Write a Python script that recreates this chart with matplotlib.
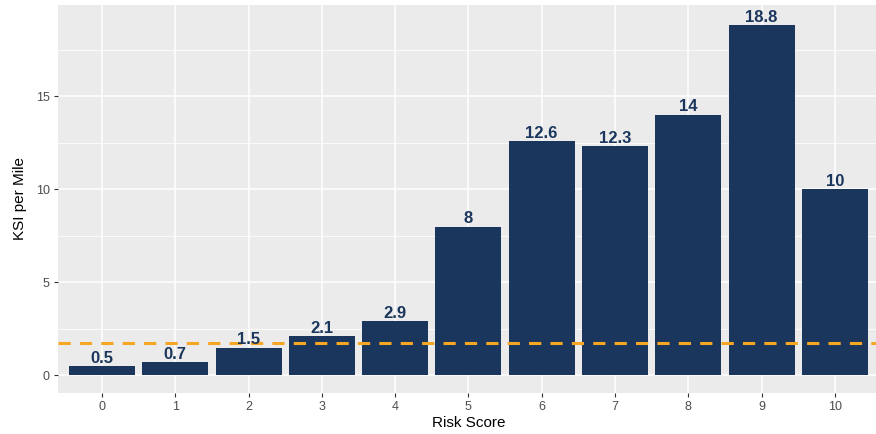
import matplotlib.pyplot as plt
import numpy as np

scores = list(range(11))
ksi_per_mile = [0.5, 0.7, 1.5, 2.1, 2.9, 8.0, 12.6, 12.3, 14.0, 18.8, 10.0]
labels = ["0.5", "0.7", "1.5", "2.1", "2.9", "8", "12.6", "12.3", "14", "18.8", "10"]
average = 1.77

plt.rcParams["font.family"] = ["Liberation Sans", "DejaVu Sans"]

fig = plt.figure(figsize=(8.76, 4.34), dpi=100)
ax = fig.add_axes([0.0662, 0.0945, 0.937, 0.894])
ax.set_facecolor("#EBEBEB")

ax.bar(scores, ksi_per_mile, width=0.9, color="#1B365D", zorder=2)
for x, y, lab in zip(scores, ksi_per_mile, labels):
    ax.text(x, y + 0.02, lab, ha="center", va="bottom", fontsize=12,
            fontweight="bold", color="#1B365D", zorder=4)

ax.axhline(average, color="#F5A623", linestyle=(0, (4, 3)), linewidth=2.2, zorder=3)

ax.set_xlim(-0.6, 10.6)
ax.set_ylim(-0.94, 19.9)
ax.set_xticks(scores)
ax.set_yticks([0, 5, 10, 15])
ax.set_yticks([2.5, 7.5, 12.5, 17.5], minor=True)
ax.grid(which="major", color="white", linewidth=1.1, zorder=0)
ax.grid(which="minor", axis="y", color="white", linewidth=0.55, zorder=0)
ax.set_axisbelow(True)
for s in ax.spines.values():
    s.set_visible(False)
ax.tick_params(which="major", length=3, width=0.8, color="#333333",
               labelcolor="#4D4D4D", labelsize=9, pad=3)
ax.tick_params(which="minor", length=0)

ax.set_xlabel("Risk Score", fontsize=11, labelpad=2)
ax.set_ylabel("KSI per Mile", fontsize=11, labelpad=6)

fig.savefig("out.png", dpi=100)
